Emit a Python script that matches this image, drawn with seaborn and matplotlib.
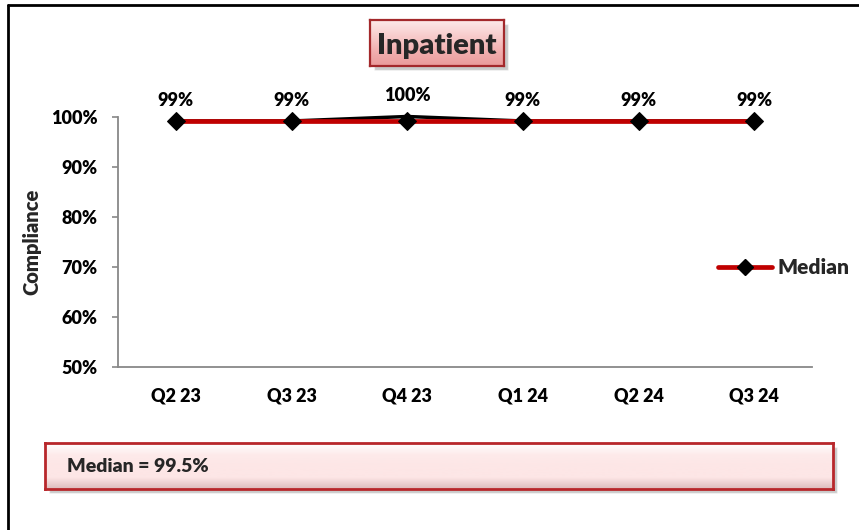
import numpy as np
import pandas as pd
import matplotlib.pyplot as plt
import seaborn as sns
from matplotlib.colors import LinearSegmentedColormap
from matplotlib.lines import Line2D
from matplotlib.patches import Rectangle

# Data
quarters = ['Q2 23', 'Q3 23', 'Q4 23', 'Q1 24', 'Q2 24', 'Q3 24']
compliance = [99.2, 99.2, 100.1, 99.2, 99.2, 99.2]
median = [99.2, 99.2, 99.2, 99.2, 99.2, 99.2]
point_labels = ['99%', '99%', '100%', '99%', '99%', '99%']
yticks = [50, 60, 70, 80, 90, 100]
title_text = 'Inpatient'
median_text = 'Median = 99.5%'

df = pd.DataFrame({'Quarter': quarters, 'Compliance': compliance, 'Median': median})

sns.set_theme(style='white')
plt.rcParams['font.family'] = ['Lato', 'DejaVu Sans']
plt.rcParams['font.weight'] = 'heavy'
WEIGHT = 'heavy'

W, H = 859, 530
fig = plt.figure(figsize=(W / 100, H / 100), dpi=100)


def px(x, y, w, h):
    # pixel box (top-left origin) -> figure fraction
    return [x / W, 1 - (y + h) / H, w / W, h / H]


def gradient_box(x, y, w, h, colors, edge, lw=1.6):
    # drop shadow behind the box
    sx, sy, sw, sh = px(x + 4, y + 4, w, h)
    fig.patches.append(Rectangle((sx, sy), sw, sh, transform=fig.transFigure,
                                 facecolor='#8a8a8a', alpha=0.45, zorder=-1))
    bax = fig.add_axes(px(x, y, w, h))
    cmap = LinearSegmentedColormap.from_list('g', colors)
    grad = np.linspace(0, 1, 64).reshape(-1, 1)
    bax.imshow(grad, aspect='auto', cmap=cmap, extent=(0, 1, 0, 1), origin='upper')
    bax.set_xticks([])
    bax.set_yticks([])
    for s in bax.spines.values():
        s.set_color(edge)
        s.set_linewidth(lw)
    return bax


# outer frame (only top and left edges visible)
fig.add_artist(Line2D([8 / W, 8 / W], [1 - 5 / H, 0], color='black', lw=2, transform=fig.transFigure))
fig.add_artist(Line2D([8 / W, 1], [1 - 5 / H, 1 - 5 / H], color='black', lw=2, transform=fig.transFigure))

# main plot
ax = fig.add_axes(px(118, 117, 694, 250))
sns.lineplot(data=df, x='Quarter', y='Compliance', color='black', lw=2.5,
             sort=False, legend=False, clip_on=False, ax=ax, zorder=2)
sns.lineplot(data=df, x='Quarter', y='Median', color='#C00000', lw=3.4,
             marker='D', markersize=9, markerfacecolor='black', markeredgecolor='black',
             sort=False, legend=False, clip_on=False, ax=ax, zorder=3)

for i, v in enumerate(compliance):
    ax.annotate(point_labels[i], (i, v), xytext=(0, 15), textcoords='offset points',
                ha='center', va='center', fontsize=13, fontweight=WEIGHT, color='black')

ax.set_xlim(-0.5, len(quarters) - 0.5)
ax.set_ylim(50, 100)
ax.set_yticks(yticks)
ax.set_yticklabels([f'{t}%' for t in yticks])
ax.set_xlabel('')
ax.set_ylabel('')
ax.tick_params(axis='y', left=True, length=4.5, width=1.2, color='#888888',
               labelsize=13, pad=10, labelcolor='black')
ax.tick_params(axis='x', bottom=False, length=0, labelsize=13, pad=15, labelcolor='black')
for lab in ax.get_xticklabels() + ax.get_yticklabels():
    lab.set_fontweight(WEIGHT)
sns.despine(ax=ax)
for s in ['left', 'bottom']:
    ax.spines[s].set_color('#888888')
    ax.spines[s].set_linewidth(1.3)
ax.set_facecolor('none')

fig.text(32 / W, 1 - 242 / H, 'Compliance', rotation=90, ha='center', va='center',
         fontsize=14.5, fontweight=WEIGHT)

# legend
handle = Line2D([], [], color='#C00000', lw=3.4, marker='D', markersize=8,
                markerfacecolor='black', markeredgecolor='black')
fig.legend([handle], ['Median'], loc='center left', bbox_to_anchor=(718 / W, 1 - 268 / H),
           frameon=False, handlelength=2.6, handletextpad=0.25, borderpad=0, borderaxespad=0,
           prop={'weight': WEIGHT, 'size': 15})

# title box
tb = gradient_box(370, 20, 134, 46, ['#FDE9E9', '#F8CDCD', '#F2B0B0', '#EA9B9B'], '#A3282B')
tb.text(0.5, 0.44, title_text, ha='center', va='center', fontsize=21, fontweight=WEIGHT,
        transform=tb.transAxes)

# median box
mb = gradient_box(45, 443, 788, 46, ['#FFFFFF', '#FDEAEA', '#FDE6E6', '#FDE6E6', '#DDBDBD'],
                  '#B8272B', lw=2)
mb.text(22 / 788, 0.5, median_text, ha='left', va='center', fontsize=14, fontweight=WEIGHT,
        transform=mb.transAxes)

fig.savefig('out.png', dpi=100)
